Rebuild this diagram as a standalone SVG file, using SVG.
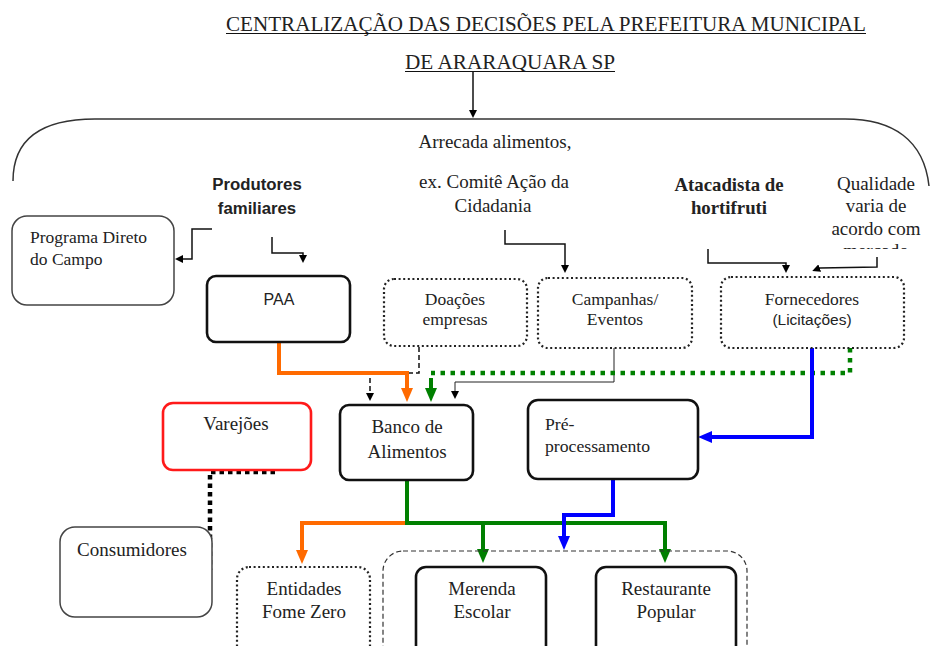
<svg xmlns="http://www.w3.org/2000/svg" width="936" height="646" viewBox="0 0 936 646">
<style>
.t{font-family:"Liberation Serif","Times New Roman",serif;fill:#222;}
.s{font-family:"Liberation Sans",Arial,sans-serif;fill:#222;}
.c{text-anchor:middle;}
.b{font-weight:bold;}
.thick{fill:#fff;stroke:#111;stroke-width:2.6;}
.dot{fill:#fff;stroke:#222;stroke-width:2.2;stroke-dasharray:2 2.6;}
.thin{fill:#fff;stroke:#444;stroke-width:1.5;}
.ln{fill:none;stroke:#111;stroke-width:1.5;}
</style>
<defs>
<marker id="mk" viewBox="0 0 10 10" refX="5" refY="5" markerWidth="8" markerHeight="8" markerUnits="userSpaceOnUse" orient="auto"><path d="M0,0L10,5L0,10z" fill="#000"/></marker>
<marker id="mo" viewBox="0 0 14 12" refX="7" refY="6" markerWidth="14" markerHeight="12" markerUnits="userSpaceOnUse" orient="auto"><path d="M0,0L14,6L0,12z" fill="#ff6a00"/></marker>
<marker id="mg" viewBox="0 0 14 12" refX="7" refY="6" markerWidth="14" markerHeight="12" markerUnits="userSpaceOnUse" orient="auto"><path d="M0,0L14,6L0,12z" fill="#008000"/></marker>
<marker id="mb" viewBox="0 0 14 12" refX="7" refY="6" markerWidth="14" markerHeight="12" markerUnits="userSpaceOnUse" orient="auto"><path d="M0,0L14,6L0,12z" fill="#0000ff"/></marker>
<clipPath id="clipM"><rect x="820" y="225" width="110" height="24"/></clipPath>
</defs>
<rect width="936" height="646" fill="#fff"/>

<g id="title">
<text class="t" x="226" y="31" font-size="22" textLength="640" lengthAdjust="spacingAndGlyphs" fill="#111">CENTRALIZAÇÃO DAS DECISÕES PELA PREFEITURA MUNICIPAL</text>
<line x1="226" y1="33.5" x2="866" y2="33.5" stroke="#111" stroke-width="1.2"/>
<text class="t" x="405" y="69" font-size="22" textLength="210" lengthAdjust="spacingAndGlyphs" fill="#111">DE ARARAQUARA SP</text>
<line x1="405" y1="71.5" x2="615" y2="71.5" stroke="#111" stroke-width="1.2"/>
</g>

<g id="arc">
<path d="M13,181 C13,140 40,119 95,119 L845,119 C893,119 924,140 929,186" fill="none" stroke="#333" stroke-width="1.5"/>
</g>

<g id="labels">
<text class="t c" x="495" y="148" font-size="19">Arrecada alimentos,</text>
<text class="t c" x="494" y="188" font-size="19">ex. Comitê Ação da</text>
<text class="t c" x="493" y="212" font-size="19">Cidadania</text>
<text class="s c b" x="257" y="190" font-size="16.8" fill="#111">Produtores</text>
<text class="s c b" x="257" y="214" font-size="16.8" fill="#111">familiares</text>
<text class="t c b" x="729" y="191" font-size="18.8" fill="#111">Atacadista de</text>
<text class="t c b" x="729" y="214" font-size="18.8" fill="#111">hortifruti</text>
<text class="t c" x="876" y="190" font-size="19">Qualidade</text>
<text class="t c" x="876" y="212" font-size="19">varia de</text>
<text class="t c" x="876" y="235" font-size="19">acordo com</text>
<text class="t c" x="876" y="257" font-size="19" clip-path="url(#clipM)">mercado</text>
</g>

<g id="connectors">
<path class="ln" d="M473,72 L473,114" marker-end="url(#mk)"/>
<path class="ln" d="M212,229 L192,229 L192,259 L179,259" marker-end="url(#mk)"/>
<path class="ln" d="M272,237 L272,253 L303,253 L303,259" marker-end="url(#mk)"/>
<path class="ln" d="M505,230 L505,244 L565,244 L565,269" marker-end="url(#mk)"/>
<path class="ln" d="M708,249 L708,263 L786,263 L786,269" marker-end="url(#mk)"/>
<path class="ln" d="M877,257 L877,267 L820,268 L816,269.5" marker-end="url(#mk)"/>
<path d="M419,347 L419,373 L370,373 L370,397" fill="none" stroke="#111" stroke-width="1.5" stroke-dasharray="5 3" marker-end="url(#mk)"/>
<path d="M614,348 L614,382 L455,382 L455,395" fill="none" stroke="#222" stroke-width="1" marker-end="url(#mk)"/>
<path d="M850,348 L850,373 L431,373" fill="none" stroke="#008000" stroke-width="4.5" stroke-dasharray="4.5 5.5"/>
<path d="M431,378 L431,395" fill="none" stroke="#008000" stroke-width="4" marker-end="url(#mg)"/>
<path d="M279,342 L279,373 L407,373 L407,395" fill="none" stroke="#ff6a00" stroke-width="4" marker-end="url(#mo)"/>
<path d="M812,348 L812,437 L705,437" fill="none" stroke="#0000ff" stroke-width="4" marker-end="url(#mb)"/>
<path d="M407,523 L302,523 L302,557" fill="none" stroke="#ff6a00" stroke-width="4" marker-end="url(#mo)"/>
<path d="M407,480 L407,523 L665,523 L665,556" fill="none" stroke="#008000" stroke-width="4" marker-end="url(#mg)"/>
<path d="M483,523 L483,556" fill="none" stroke="#008000" stroke-width="4" marker-end="url(#mg)"/>
<path d="M613,479 L613,515 L564,515 L564,543" fill="none" stroke="#0000ff" stroke-width="4" marker-end="url(#mb)"/>
<path d="M275,472 L210,472 L210,570" fill="none" stroke="#000" stroke-width="4.5" stroke-dasharray="4.5 4"/>
</g>

<g id="grupo-merenda-restaurante">
<rect x="383" y="551" width="364" height="125" rx="20" fill="none" stroke="#333" stroke-width="1.2" stroke-dasharray="5 3"/>
</g>

<g id="programa">
<rect class="thin" x="12" y="216" width="162" height="89" rx="15"/>
<text class="t" x="30" y="243" font-size="17.5">Programa Direto</text>
<text class="t" x="30" y="265" font-size="17.5">do Campo</text>
</g>
<g id="paa">
<rect class="thick" x="207" y="276" width="143" height="66" rx="9"/>
<text class="s c" x="279" y="305" font-size="16">PAA</text>
</g>
<g id="doacoes">
<rect class="dot" x="384" y="279" width="143" height="67" rx="10"/>
<text class="t c" x="455" y="305" font-size="17.5">Doações</text>
<text class="t c" x="455" y="325" font-size="17.5">empresas</text>
</g>
<g id="campanhas">
<rect class="dot" x="538" y="278" width="154" height="70" rx="10"/>
<text class="t c" x="615" y="305" font-size="17.5">Campanhas/</text>
<text class="t c" x="615" y="325" font-size="17.5">Eventos</text>
</g>
<g id="fornecedores">
<rect class="dot" x="721" y="277" width="183" height="71" rx="10"/>
<text class="t c" x="812" y="305" font-size="17.5">Fornecedores</text>
<text class="s c" x="812" y="325" font-size="15.5">(Licitações)</text>
</g>
<g id="varejoes">
<rect x="163" y="403" width="148" height="67" rx="10" fill="#fff" stroke="#ff1a1a" stroke-width="2.6"/>
<text class="t c" x="236" y="430" font-size="19">Varejões</text>
</g>
<g id="banco">
<rect class="thick" x="340" y="405" width="133" height="75" rx="9"/>
<text class="t c" x="407" y="433" font-size="19">Banco de</text>
<text class="t c" x="407" y="458" font-size="19">Alimentos</text>
</g>
<g id="preprocessamento">
<rect class="thick" x="528" y="400" width="170" height="79" rx="10"/>
<text class="t" x="545" y="430" font-size="17.7">Pré-</text>
<text class="t" x="545" y="452" font-size="17.7">processamento</text>
</g>
<g id="consumidores">
<rect class="thin" x="60" y="527" width="152" height="90" rx="15" fill="none"/>
<text class="t c" x="132" y="556" font-size="19">Consumidores</text>
</g>
<g id="entidades">
<rect class="dot" x="237" y="567" width="133" height="100" rx="12"/>
<text class="t c" x="304" y="595" font-size="19">Entidades</text>
<text class="t c" x="304" y="618" font-size="19">Fome Zero</text>
</g>
<g id="merenda">
<rect class="thick" x="416" y="567" width="130" height="100" rx="10" stroke-width="3"/>
<text class="t c" x="482" y="595" font-size="19">Merenda</text>
<text class="t c" x="482" y="618" font-size="19">Escolar</text>
</g>
<g id="restaurante">
<rect class="thick" x="596" y="567" width="140" height="100" rx="10" stroke-width="3"/>
<text class="t c" x="666" y="595" font-size="19">Restaurante</text>
<text class="t c" x="666" y="618" font-size="19">Popular</text>
</g>
</svg>
